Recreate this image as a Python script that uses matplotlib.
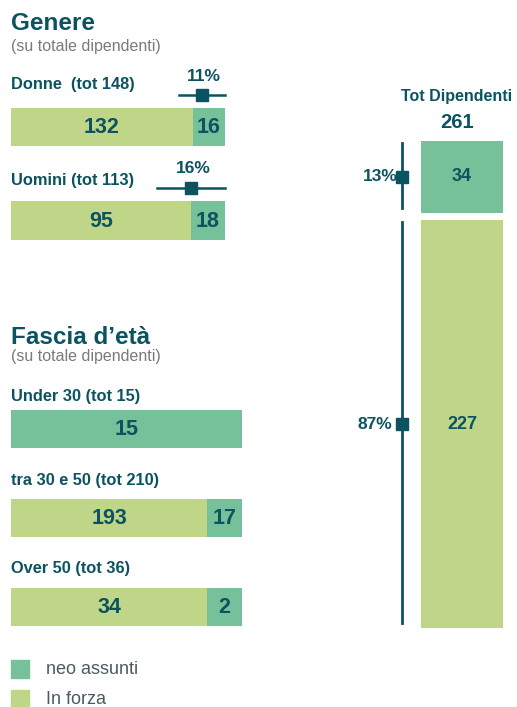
import matplotlib
matplotlib.use('Agg')
import matplotlib.pyplot as plt
from matplotlib.patches import Rectangle

plt.rcParams['font.family'] = ['Liberation Sans', 'DejaVu Sans']

# dati
gen_names = ['Donne ', 'Uomini']
gen_forza = [132, 95]
gen_neo = [16, 18]
age_names = ['Under 30', 'tra 30 e 50', 'Over 50']
age_forza = [0, 193, 34]
age_neo = [15, 17, 2]
tot_forza = 227
tot_neo = 34

DARK = '#0b5360'
C_NEO = '#76c199'
C_FORZA = '#bfd689'
GREY = '#7a7a7a'
MIN_FRAC = 0.15   # larghezza minima del segmento "neo" per leggere l'etichetta

W, H = 517, 707
fig = plt.figure(figsize=(W/100, H/100), dpi=100)

def rect(x0, y0, x1, y1):
    return [x0/W, 1-y1/H, (x1-x0)/W, (y1-y0)/H]

def ftext(x, y, s, **kw):
    fig.text(x/W, 1-y/H, s, **kw)

def hbar(box, forza, neo, marker=False):
    ax = fig.add_axes(rect(*box))
    total = forza + neo
    # segmento neo allargato se troppo stretto
    neo_w = max(neo, MIN_FRAC*total) if forza else neo
    split = total - neo_w
    ax.barh(0, split, height=1, color=C_FORZA)
    ax.barh(0, neo_w, left=split, height=1, color=C_NEO)
    ax.set_xlim(0, total)
    ax.set_ylim(-0.5, 0.5)
    ax.axis('off')
    if forza:
        ax.text(split/2, -0.02, str(forza), ha='center', va='center',
                fontsize=15.5, fontweight='bold', color=DARK)
    if neo:
        ax.text(split + neo_w/2, -0.02, str(neo), ha='center', va='center',
                fontsize=15.5, fontweight='bold', color=DARK)
    if marker:
        ym = 0.84
        ax.plot([forza - neo, forza + neo], [ym, ym], color=DARK, lw=1.8, clip_on=False)
        ax.plot(forza, ym, marker='s', ms=8.6, color=DARK, clip_on=False)
        ax.annotate('%d%%' % round(neo/total*100), (forza, ym), xytext=(2, 19),
                    textcoords='offset pixels', ha='center', va='center',
                    fontsize=12.5, fontweight='bold', color=DARK, annotation_clip=False)
    return ax

# Genere
ftext(11, 24, 'Genere', fontsize=17.5, fontweight='bold', color=DARK, va='center')
ftext(11, 47, '(su totale dipendenti)', fontsize=11.5, color=GREY, va='center')
gen_bars = [(108, 146), (201, 240)]
gen_label_y = [84, 180]
for name, f, n, (y0, y1), ly in zip(gen_names, gen_forza, gen_neo, gen_bars, gen_label_y):
    ftext(11, ly, '%s (tot %d)' % (name, f + n), fontsize=11.8, fontweight='bold',
          color=DARK, va='center')
    hbar((11, y0, 225, y1), f, n, marker=True)

# Fascia d'eta
ftext(11, 337, 'Fascia d\u2019et\u00e0', fontsize=17.5, fontweight='bold', color=DARK, va='center')
ftext(11, 357, '(su totale dipendenti)', fontsize=11.5, color=GREY, va='center')
age_bars = [(410, 448), (499, 537), (588, 626)]
age_label_y = [396, 481, 568]
for name, f, n, (y0, y1), ly in zip(age_names, age_forza, age_neo, age_bars, age_label_y):
    ftext(11, ly, '%s (tot %d)' % (name, f + n), fontsize=11.8, fontweight='bold',
          color=DARK, va='center')
    hbar((11, y0, 242, y1), f, n)

# Totale dipendenti
tot = tot_forza + tot_neo
gap = 4
neo_h = max(tot_neo, MIN_FRAC*tot)
forza_h = tot - neo_h
ax = fig.add_axes(rect(421, 141, 503, 628))
ax.bar(0, forza_h, width=1, color=C_FORZA)
ax.bar(0, neo_h, bottom=forza_h + gap, width=1, color=C_NEO)
ax.set_xlim(-0.5, 0.5)
ax.set_ylim(0, tot + gap)
ax.axis('off')
tr = ax.get_yaxis_transform()
xl = -0.23
for b0, h, v, dx in [(0, forza_h, tot_forza, -10), (forza_h + gap, neo_h, tot_neo, -4)]:
    ym = b0 + h/2
    ax.text(0, ym, str(v), ha='center', va='center',
            fontsize=13, fontweight='bold', color=DARK)
    ax.plot([xl, xl], [b0 + 2.5, b0 + h - 1], color=DARK, lw=2, transform=tr, clip_on=False)
    ax.annotate('%d%%' % round(v/tot*100), (xl, ym), xycoords=tr, xytext=(dx, 0),
                textcoords='offset pixels', ha='right', va='center',
                fontsize=12.5, fontweight='bold', color=DARK, annotation_clip=False)
    ax.plot(xl, ym, marker='s', ms=9, color=DARK, transform=tr, clip_on=False)

ftext(457, 96, 'Tot Dipendenti', fontsize=11.5, fontweight='bold', color=DARK,
      ha='center', va='center')
ftext(457, 122, str(tot), fontsize=14.5, fontweight='bold', color=DARK,
      ha='center', va='center')

# legenda
for y, c, lab in [(660, C_NEO, 'neo assunti'), (690, C_FORZA, 'In forza')]:
    fig.add_artist(Rectangle((11/W, 1-(y+18)/H), 18/W, 18/H, color=c,
                             transform=fig.transFigure))
    ftext(46, y + 9, lab, fontsize=13, color='#4a5b60', va='center')

fig.savefig('out.png', dpi=100)
